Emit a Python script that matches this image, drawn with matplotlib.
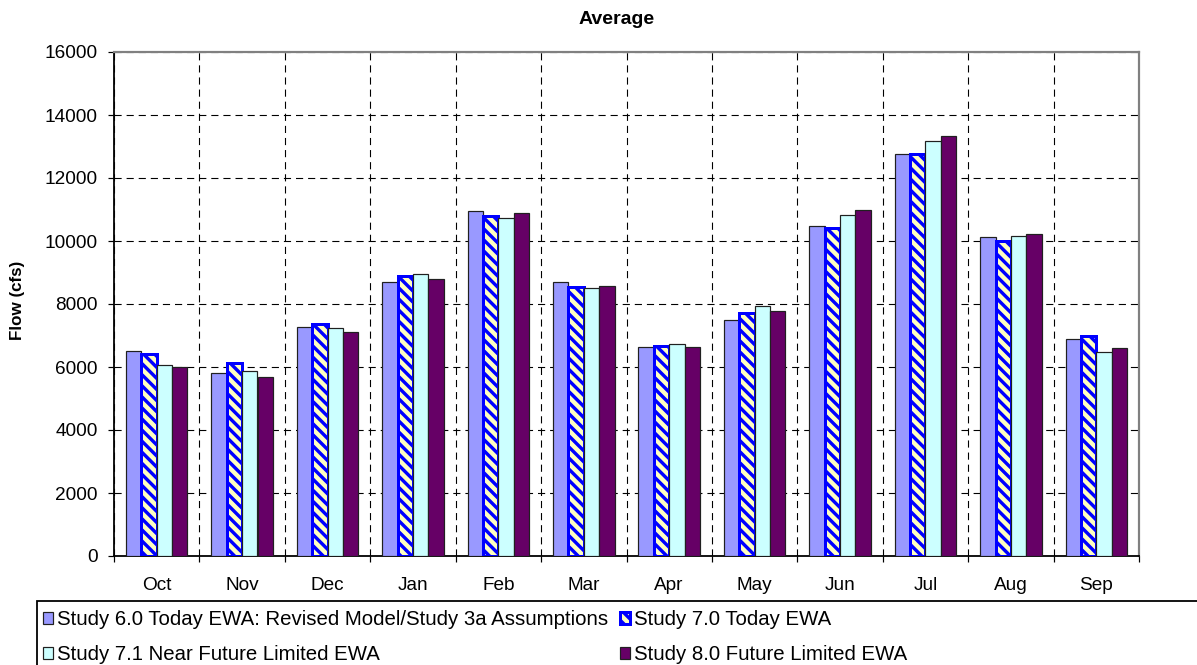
import matplotlib
matplotlib.use("Agg")
import matplotlib.pyplot as plt
import numpy as np
from matplotlib.patches import Rectangle

DPI = 133
def pt(px):
    return px * 72.0 / DPI

plt.rcParams['font.family'] = ['Liberation Sans', 'DejaVu Sans']
plt.rcParams['hatch.linewidth'] = pt(3.4)

months = ["Oct", "Nov", "Dec", "Jan", "Feb", "Mar", "Apr", "May", "Jun", "Jul", "Aug", "Sep"]
series_names = [
    "Study 6.0 Today EWA: Revised Model/Study 3a Assumptions",
    "Study 7.0 Today EWA",
    "Study 7.1 Near Future Limited EWA",
    "Study 8.0 Future Limited EWA",
]
study60 = [6520, 5820, 7280, 8710, 10960, 8710, 6650, 7480, 10480, 12750, 10140, 6900]
study70 = [6420, 6140, 7380, 8900, 10790, 8540, 6670, 7715, 10410, 12770, 10010, 6975]
study71 = [6065, 5875, 7250, 8960, 10720, 8520, 6740, 7930, 10825, 13175, 10150, 6465]
study80 = [6010, 5685, 7100, 8805, 10880, 8560, 6650, 7780, 10985, 13335, 10235, 6615]

fig = plt.figure(figsize=(1197 / DPI, 665 / DPI), dpi=DPI)
ax = fig.add_axes([114/1197, 1-556/665, (1139-114)/1197, (556-52)/665])

x = np.arange(len(months))
w = 0.18
styles = [
    dict(color="#9999FF", edgecolor="#202020", linewidth=pt(1.2)),
    dict(color="#FFFFC0", edgecolor="#0000FF", linewidth=pt(3.0), hatch="\\\\\\\\"),
    dict(color="#CCFFFF", edgecolor="#202020", linewidth=pt(1.2)),
    dict(color="#660066", edgecolor="#202020", linewidth=pt(1.2)),
]
data = [study60, study70, study71, study80]
handles = []
for i, (vals, st) in enumerate(zip(data, styles)):
    b = ax.bar(x + (i - 1.5) * w, vals, width=w, label=series_names[i], zorder=3, **st)
    handles.append(b)

ax.set_xlim(-0.5, 11.5)
ax.set_ylim(0, 16000)
ax.set_yticks(np.arange(0, 16001, 2000))
ax.set_xticks(np.arange(-0.5, 12, 1))
ax.set_xticklabels([])
ax.set_xticks(x, minor=True)
ax.set_xticklabels(months, minor=True, fontsize=pt(19))
ax.tick_params(axis='x', which='minor', length=0, pad=pt(21))
ax.tick_params(axis='x', which='major', length=pt(6), width=pt(1.2), direction='out', color='black')
ax.tick_params(axis='y', length=pt(6), width=pt(1.2), direction='out', labelsize=pt(19), pad=pt(10))
ax.grid(True, which='major', axis='both', color='black', linestyle=(0, (6.5, 4.5)), linewidth=pt(1.1), zorder=0)
ax.set_axisbelow(True)

for s in ['top', 'right']:
    ax.spines[s].set_color('#808080')
    ax.spines[s].set_linewidth(pt(2.2))
for s in ['left', 'bottom']:
    ax.spines[s].set_color('black')
    ax.spines[s].set_linewidth(pt(1.8))

fig.text(18/1197, 1-300/665, "Flow (cfs)", rotation=90, ha='center', va='center',
         fontsize=pt(17), fontweight='bold')
fig.text(617/1197, 1-19/665, "Average", ha='center', va='center', fontsize=pt(19.5), fontweight='bold')

# legend frame (extends past the right edge as in the reference)
fig.patches.append(Rectangle((37/1197, -0.02), 1.2, (665-601)/665 + 0.02, transform=fig.transFigure,
                             facecolor='white', edgecolor='black', linewidth=pt(1.8), zorder=1))
order = [0, 2, 1, 3]
leg = fig.legend(handles=[handles[k] for k in order], labels=[series_names[k] for k in order],
                 loc='upper left', bbox_to_anchor=(37/1197, 1-604/665), borderaxespad=0,
                 ncol=2, frameon=False, fontsize=pt(20.4),
                 handlelength=0.5, handleheight=0.5, handletextpad=0.2, columnspacing=0.55,
                 labelspacing=0.8, borderpad=0.3)

fig.savefig("out.png", dpi=DPI)
